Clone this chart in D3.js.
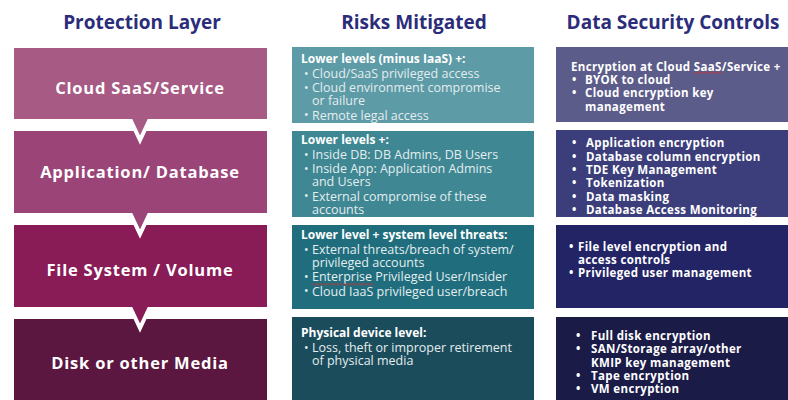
<!DOCTYPE html>
<html><head><meta charset="utf-8">
<script src="https://cdn.jsdelivr.net/npm/d3@7"></script>
<style>
html,body{margin:0;padding:0;background:#fff;}
svg{display:block;}
</style></head>
<body>
<svg id="c" width="788" height="400"></svg>
<script>
// ---------- data ----------
const columnTitles = ["Protection Layer", "Risks Mitigated", "Data Security Controls"];
const layers = ["Cloud SaaS/Service", "Application/ Database", "File System / Volume", "Disk or other Media"];
const riskHeads = ["Lower levels (minus IaaS) +:", "Lower levels +:", "Lower level + system level threats:", "Physical device level:"];
const riskItems = [
  [["Cloud/SaaS privileged access"], ["Cloud environment compromise", "or failure"], ["Remote legal access"]],
  [["Inside DB: DB Admins, DB Users"], ["Inside App: Application Admins", "and Users"], ["External compromise of these", "accounts"]],
  [["External threats/breach of system/", "privileged accounts"], ["Enterprise Privileged User/Insider"], ["Cloud IaaS privileged user/breach"]],
  [["Loss, theft or improper retirement", "of physical media"]]
];
const controlHeads = ["Encryption at Cloud SaaS/Service +", null, null, null];
const controlItems = [
  [["BYOK to cloud"], ["Cloud encryption key", "management"]],
  [["Application encryption"], ["Database column encryption"], ["TDE Key Management"], ["Tokenization"], ["Data masking"], ["Database Access Monitoring"]],
  [["File level encryption and", "access controls"], ["Privileged user management"]],
  [["Full disk encryption"], ["SAN/Storage array/other", "KMIP key management"], ["Tape encryption"], ["VM encryption"]]
];
const spellMarks = [{col: 2, row: 0, word: "SaaS"}, {col: 1, row: 2, word: "Enterprise"}];

// ---------- layout ----------
const svg = d3.select("#c");
const FONT = "'Open Sans', 'DejaVu Sans', sans-serif";
const rowIdx = d3.range(4);
const colX = d3.scaleOrdinal().domain([0, 1, 2]).range([[12, 269], [292, 534], [556, 790]]);
const rowTop = [
  d3.scaleOrdinal().domain(rowIdx).range([46, 129, 223, 317]),
  d3.scaleOrdinal().domain(rowIdx).range([47, 131, 225, 317]),
  d3.scaleOrdinal().domain(rowIdx).range([47, 130, 225, 317])
];
const rowBot = [
  d3.scaleOrdinal().domain(rowIdx).range([121, 215, 309, 420]),
  d3.scaleOrdinal().domain(rowIdx).range([123, 217, 309, 420]),
  d3.scaleOrdinal().domain(rowIdx).range([122, 217, 308, 420])
];
const colors = [
  d3.scaleOrdinal().domain(rowIdx).range(["#a65a84", "#9a4477", "#891b56", "#5c1740"]),
  d3.scaleOrdinal().domain(rowIdx).range(["#5d9ba7", "#3e8793", "#206e7d", "#1b4c5b"]),
  d3.scaleOrdinal().domain(rowIdx).range(["#5c5c8a", "#3c3e7b", "#232466", "#1b1b48"])
];

// titles
const titleCx = [142, 414, 673];
svg.selectAll("text.title").data(columnTitles).join("text")
  .attr("class", "title")
  .attr("x", (d, i) => titleCx[i]).attr("y", 22).attr("dy", "0.35em")
  .attr("text-anchor", "middle")
  .attr("font-family", FONT).attr("font-weight", 700).attr("font-size", 19)
  .attr("fill", "#2b2c7a").text(d => d);

// left column boxes with pointers, drawn bottom-up
const pcx = 140;
const lx = colX(0);
const layerG = svg.append("g");
const order = rowIdx.slice().reverse();
order.forEach(i => {
  const t = rowTop[0](i), b = rowBot[0](i);
  const p = d3.path();
  p.moveTo(lx[0], t); p.lineTo(lx[1], t); p.lineTo(lx[1], b);
  if (i < 3) { p.lineTo(pcx + 9, b); p.lineTo(pcx, b + 19); p.lineTo(pcx - 9, b); }
  p.lineTo(lx[0], b); p.closePath();
  layerG.append("path").attr("d", p.toString())
    .attr("fill", colors[0](i)).attr("stroke", "#fff").attr("stroke-width", 4).attr("stroke-linejoin", "miter");
});
const labelCy = [88, 172, 270, 363];
svg.selectAll("text.layer").data(layers).join("text")
  .attr("class", "layer")
  .attr("x", pcx).attr("y", (d, i) => labelCy[i]).attr("dy", "0.35em")
  .attr("text-anchor", "middle")
  .attr("font-family", FONT).attr("font-weight", 700).attr("font-size", 16.5)
  .attr("letter-spacing", 0.8)
  .attr("fill", "#fff").text(d => d);

// middle & right boxes
[1, 2].forEach(c => {
  svg.append("g").selectAll("rect").data(rowIdx).join("rect")
    .attr("x", colX(c)[0]).attr("width", colX(c)[1] - colX(c)[0])
    .attr("y", i => rowTop[c](i)).attr("height", i => rowBot[c](i) - rowTop[c](i))
    .attr("fill", i => colors[c](i));
});

// text blocks
function buildLines(head, items, headGap, lineGap, itemGap) {
  const out = [];
  let y = 0;
  if (head) { out.push({type: "head", text: head, y: 0}); y = headGap; }
  items.forEach((it, k) => {
    if (k > 0) y += itemGap;
    it.forEach((ln, j) => {
      if (j > 0) y += lineGap;
      out.push({type: j === 0 ? "bullet" : "cont", text: ln, y});
    });
  });
  return out;
}
const midStart = [59, 140, 235, 333];
const rightStart = [66.7, 143.3, 246.7, 336];
const midIndent = {head: 301, bullet: 304, text: 312};
const rightIndent = [
  {head: 571, bullet: 572, text: 585},
  {head: 571, bullet: 572, text: 586},
  {head: 571, bullet: 569, text: 578},
  {head: 571, bullet: 576, text: 591}
];
const textNodes = {};
rowIdx.forEach(r => {
  // middle
  const ml = buildLines(riskHeads[r], riskItems[r], 14.3, 13.3, 14.3);
  const gm = svg.append("g").attr("transform", `translate(0,${midStart[r]})`);
  ml.forEach(l => {
    if (l.type === "bullet") gm.append("text").attr("x", midIndent.bullet).attr("y", l.y).attr("dy", "0.35em")
      .attr("font-family", FONT).attr("font-size", 12).attr("fill", "#e4edef").text("•");
    const t = gm.append("text").attr("x", l.type === "head" ? midIndent.head : midIndent.text).attr("y", l.y).attr("dy", "0.35em")
      .attr("font-family", FONT)
      .attr("font-weight", l.type === "head" ? 700 : 400)
      .attr("font-size", l.type === "head" ? 12 : 12.5)
      .attr("fill", l.type === "head" ? "#ffffff" : "#e4edef").text(l.text);
    textNodes[`1-${r}-${l.text}`] = t;
  });
  // right
  const rl = buildLines(controlHeads[r], controlItems[r], 13.3, 13.3, 13.3);
  const gr = svg.append("g").attr("transform", `translate(0,${rightStart[r]})`);
  const ind = rightIndent[r];
  rl.forEach(l => {
    if (l.type === "bullet") gr.append("text").attr("x", ind.bullet).attr("y", l.y).attr("dy", "0.35em")
      .attr("font-family", FONT).attr("font-weight", 700).attr("font-size", 11.5).attr("fill", "#fff").text("•");
    const t = gr.append("text").attr("x", l.type === "head" ? ind.head : ind.text).attr("y", l.y).attr("dy", "0.35em")
      .attr("font-family", FONT).attr("font-weight", 700).attr("font-size", 11.5)
      .attr("letter-spacing", 0.35)
      .attr("fill", "#fff").text(l.text);
    textNodes[`2-${r}-${l.text}`] = t;
  });
});

// spell-check squiggles
spellMarks.forEach(m => {
  const key = Object.keys(textNodes).find(k => k.startsWith(`${m.col}-${m.row}-`) && k.includes(m.word));
  if (!key) return;
  const t = textNodes[key];
  const node = t.node();
  const str = node.textContent;
  const idx = str.indexOf(m.word);
  const x0 = +t.attr("x") + node.getSubStringLength(0, idx);
  const w = node.getSubStringLength(idx, m.word.length);
  const bb = node.getBBox();
  const yb = bb.y + bb.height - 1;
  const parent = d3.select(node.parentNode);
  const p = d3.path();
  p.moveTo(x0, yb);
  for (let x = x0, k = 0; x < x0 + w; x += 2, k++) p.lineTo(Math.min(x + 2, x0 + w), yb + (k % 2 ? -1 : 1));
  parent.append("path").attr("d", p.toString()).attr("fill", "none").attr("stroke", "#d03030").attr("stroke-width", 0.9);
});
</script>
</body></html>
